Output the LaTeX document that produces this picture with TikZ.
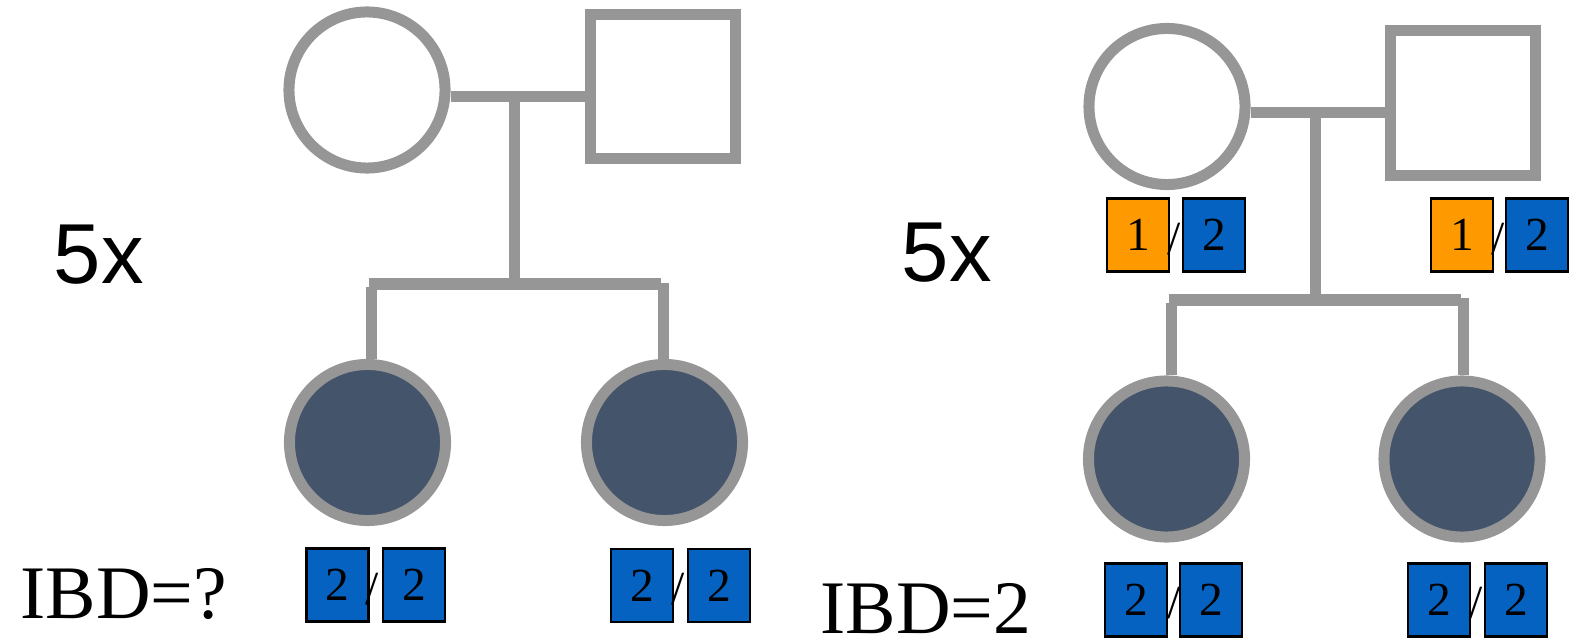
\documentclass[tikz,border=0pt]{standalone}
\usepackage{fontspec}
\setmainfont{Liberation Serif}
\newfontfamily\arialf{Liberation Sans}
\definecolor{pgray}{RGB}{150,150,150}
\definecolor{slate}{RGB}{68,84,106}
\definecolor{ablue}{RGB}{5,98,193}
\definecolor{aorange}{RGB}{255,153,0}
\begin{document}
\begin{tikzpicture}[x=0.01cm,y=-0.01cm,
  pline/.style={draw=pgray, line width=3.13pt},
  fem/.style={circle, pline, fill=white, minimum size=1.56cm, inner sep=0pt},
  affected/.style={fem, fill=slate},
  male/.style={rectangle, pline, fill=white, minimum width=1.45cm, minimum height=1.44cm, inner sep=0pt},
  allele/.style={rectangle, draw=black, line width=0.6pt, minimum width=0.62cm, minimum height=0.73cm, inner sep=0pt, font=\fontsize{13.5}{14}\selectfont},
  bluebox/.style={allele, fill=ablue},
  orangebox/.style={allele, fill=aorange},
  slash/.style={inner sep=0pt, font=\fontsize{13.5}{14}\selectfont},
  bigtxt/.style={inner sep=0pt, anchor=base west, font=\fontsize{21.5}{24}\selectfont},
  fivex/.style={inner sep=0pt, anchor=base west, font=\arialf\fontsize{24.2}{28}\selectfont}
]
\useasboundingbox (0,0) rectangle (1570,640);

% ---------- left pedigree ----------
\node[fem] (mL) at (367,90) {};
\node[male] (fL) at (663,86.5) {};
\node[affected] (c1L) at (367.5,442.5) {};
\node[affected] (c2L) at (664.5,442.5) {};
\coordinate (marL) at (514.5,96.5);
\coordinate (sibL) at (514.5,284);
\coordinate (sLa) at (369,284);
\coordinate (sLb) at (661,284);
\coordinate (dLa) at (371.5,287);
\coordinate (dLb) at (663,283);
\draw[pline] (marL -| mL.east) -- (marL -| fL.west);
\draw[pline] (marL) -- (sibL);
\draw[pline] (sLa) -- (sLb);
\draw[pline] (dLa) -- (dLa |- c1L.north);
\draw[pline] (dLb) -- (dLb |- c2L.north);

\node[bluebox] (b1L1) at (337.5,585) {2};
\node[bluebox] (b1L2) at (414,585) {2};
\node[slash] (s1L) at (372.5,589) {/};
\node[bluebox] (b2L1) at (642,585.5) {2};
\node[bluebox] (b2L2) at (719,585.5) {2};
\node[slash] (s2L) at (678.5,589) {/};

\node[fivex] (fxL) at (53,284) {5x};
\node[bigtxt] (ibdL) at (20,618) {IBD=?};

% ---------- right pedigree ----------
\node[fem] (mR) at (1167,106.5) {};
\node[male] (fR) at (1463,103) {};
\node[affected] (c1R) at (1166.5,459) {};
\node[affected] (c2R) at (1462,459) {};
\coordinate (marR) at (1315,112.5);
\coordinate (sibR) at (1315,300);
\coordinate (sRa) at (1169,300);
\coordinate (sRb) at (1461,300);
\coordinate (dRa) at (1171.5,303);
\coordinate (dRb) at (1463,298);
\draw[pline] (marR -| mR.east) -- (marR -| fR.west);
\draw[pline] (marR) -- (sibR);
\draw[pline] (sRa) -- (sRb);
\draw[pline] (dRa) -- (dRa |- c1R.north);
\draw[pline] (dRb) -- (dRb |- c2R.north);

\node[orangebox] (bmR1) at (1138,235) {1};
\node[bluebox] (bmR2) at (1214,235) {2};
\node[slash] (smR) at (1174,239.5) {/};
\node[orangebox] (bfR1) at (1462,235) {1};
\node[bluebox] (bfR2) at (1537,235) {2};
\node[slash] (sfR) at (1498,239.5) {/};

\node[bluebox] (b1R1) at (1136,600) {2};
\node[bluebox] (b1R2) at (1211,600) {2};
\node[slash] (s1R) at (1174,603) {/};
\node[bluebox] (b2R1) at (1439,600) {2};
\node[bluebox] (b2R2) at (1516,600) {2};
\node[slash] (s2R) at (1476,603) {/};

\node[fivex] (fxR) at (901,282) {5x};
\node[bigtxt] (ibdR) at (820,633) {IBD=2};
\end{tikzpicture}
\end{document}
